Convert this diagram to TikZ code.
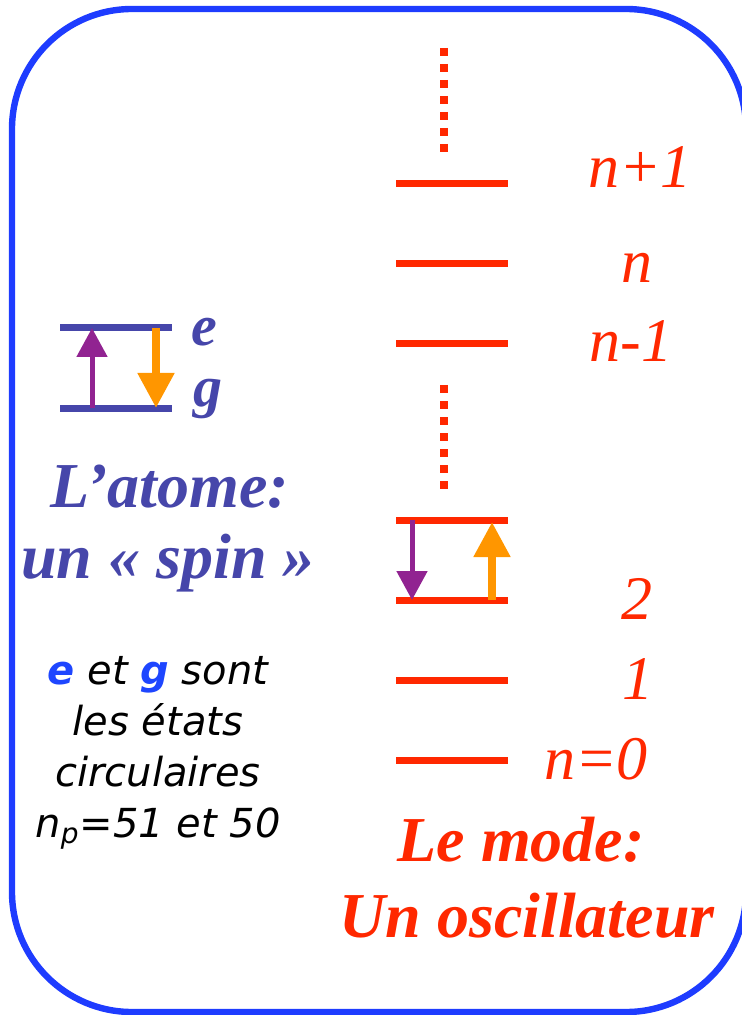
\documentclass[tikz,border=0pt]{standalone}
\usepackage{fontspec}
\setmainfont{Liberation Serif}
\newfontfamily\notefont{DejaVu Sans}
\usetikzlibrary{arrows.meta,positioning}

\definecolor{frameblue}{RGB}{30,60,255}
\definecolor{atomblue}{RGB}{70,70,170}
\definecolor{modered}{RGB}{255,40,0}
\definecolor{transviolet}{RGB}{145,35,145}
\definecolor{transorange}{RGB}{255,150,0}
\definecolor{noteblue}{RGB}{30,70,255}

\begin{document}
\begin{tikzpicture}[x=0.5pt,y=-0.5pt,
        level/.style={fill=modered, inner sep=0pt, minimum width=56pt, minimum height=3.5pt},
        alevel/.style={level, fill=atomblue},
        qlbl/.style={text=modered, font=\fontsize{31}{31}\selectfont\itshape, anchor=base, inner sep=0pt},
        title/.style={font=\fontsize{32}{36}\selectfont\bfseries\itshape, anchor=base, inner sep=0pt},
        state/.style={title, text=atomblue, font=\fontsize{29}{32}\selectfont\bfseries\itshape},
        note/.style={font=\notefont\fontsize{20}{25.5}\selectfont\itshape, align=center, anchor=base, inner sep=0pt},
        dots/.style={modered, line width=4pt, dash pattern=on 3.8pt off 4.2pt},
        varr/.style={-{Triangle[width=15pt,length=14.5pt]}, line width=2.5pt, transviolet},
        oarr/.style={-{Triangle[width=17.5pt,length=17.5pt]}, line width=4pt, transorange}]
        \useasboundingbox (0,0) rectangle (742,1015);
        \clip (0,0) rectangle (742,1015);
        \draw[frameblue, line width=3.2pt, rounded corners=60pt] (12,9) rectangle (746,1012);
        % the mode: ladder of levels
        \foreach \y/\nm in {184/up,264/nn,344/down,520/three,600/two,680/one,760/zero}
            \node[level] (\nm) at (452,\y) {};
        \coordinate (dota) at (444,48);
        \coordinate (dotb) at (444,153);
        \coordinate (dotc) at (444,385);
        \coordinate (dotd) at (444,489);
        \draw[dots] (dota) -- (dotb);
        \draw[dots] (dotc) -- (dotd);
        \node[qlbl] (lup)   at (640,188) {n+1};
        \node[qlbl] (lnn)   at (637,283) {n};
        \node[qlbl] (ldown) at (631,362) {n-1};
        \node[qlbl] (ltwo)  at (637,619) {2};
        \node[qlbl] (lone)  at (638,699) {1};
        \node[qlbl] (lzero) at (596,779) {n=0};
        \draw[varr] ([xshift=-20pt]three.center) -- ([xshift=-20pt]two.center);
        \draw[oarr] ([xshift=20pt]two.center) -- ([xshift=20pt,yshift=-1pt]three.center);
        \node[title, text=modered] (mode) at (521,861) {Le mode:};
        \node[title, text=modered] (osc)  at (527,937) {Un oscillateur};
        % the atom: two levels
        \node[alevel] (ee) at (116,328) {};
        \node[alevel] (gg) at (116,408) {};
        \draw[varr] ([xshift=-12pt]gg.center) -- ([xshift=-12pt]ee.center);
        \draw[oarr] ([xshift=20pt]ee.center) -- ([xshift=20pt]gg.center);
        \node[state] (le) at (204,346) {e};
        \node[state] (lg) at (208,407) {g};
        \node[title, text=atomblue] (atom) at (170,507) {L’atome:};
        \node[title, text=atomblue] (spin) at (168,578) {un « spin »};
        \node[note] (states) at (158,837) {\textbf{\textcolor{noteblue}{e}} et \textbf{\textcolor{noteblue}{g}} sont\\les états\\circulaires\\n\textsubscript{p}=51 et 50};
    \end{tikzpicture}
\end{document}
